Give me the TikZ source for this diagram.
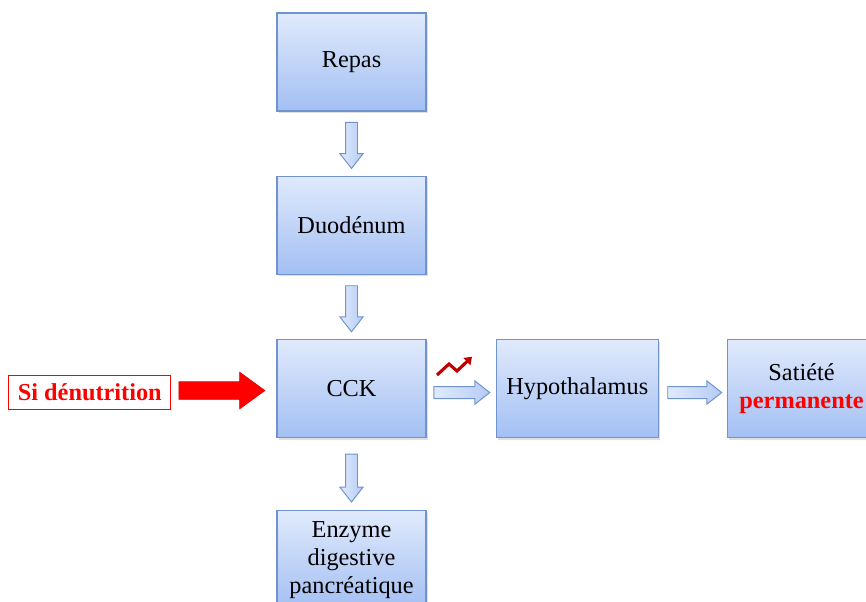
\documentclass[tikz,border=0pt]{standalone}
\usepackage{fontspec}
\setmainfont{Liberation Serif}
\usetikzlibrary{positioning,shapes.arrows,shadows,calc,arrows.meta}

\definecolor{boiteHaut}{HTML}{E0EAFC}
\definecolor{boiteBas}{HTML}{A3BFF3}
\definecolor{boiteBord}{HTML}{6F93CF}
\definecolor{rougeFonce}{HTML}{C00000}

\tikzset{
	boite/.style={rectangle, draw=boiteBord, line width=0.9pt, top color=boiteHaut, bottom color=boiteBas,
		minimum width=3.725cm, minimum height=2.45cm, align=center,
		font=\fontsize{17.3}{20}\selectfont,
		drop shadow={shadow xshift=0.04cm, shadow yshift=-0.05cm, opacity=0.25}},
	fleche/.style={single arrow, draw=boiteBord, line width=0.7pt, left color=boiteHaut, right color=boiteBas!80,
		minimum height=1.15cm, inner xsep=0pt, inner ysep=0.1375cm,
		single arrow head extend=0.14cm, single arrow tip angle=76},
	alerte/.style={rectangle, draw=red, line width=0.8pt, fill=white, text=red,
		minimum width=4.05cm, minimum height=0.85cm, font=\fontsize{17.3}{20}\selectfont\bfseries}
}

\begin{document}
\begin{tikzpicture}
	\useasboundingbox (0,0) rectangle (21.65,-15.025);

	% colonne centrale
	\node[boite] (repas) at (8.7875,-1.55) {Repas};
	\node[boite, below=1.6cm of repas] (duodenum) {Duodénum};
	\node[boite, below=1.6cm of duodenum] (cck) {CCK};
	\node[boite, below=1.8cm of cck] (enzyme) {Enzyme\\digestive\\pancréatique};

	% branche droite
	\node[boite, minimum width=4.05cm, right=1.725cm of cck] (hypo) {Hypothalamus};
	\node[boite, minimum width=3.7cm, right=1.7cm of hypo] (satiete) {Satiété\\\textcolor{red}{\textbf{permanente}}};

	% cause
	\node[alerte, left=2.625cm of cck, yshift=-0.1cm] (denutrition) {Si dénutrition};

	% fleches
	\node[fleche, rotate=-90, xshift=-0.05cm] (f1) at ($(repas.south)!0.5!(duodenum.north)$) {};
	\node[fleche, rotate=-90, xshift=-0.05cm] (f2) at ($(duodenum.south)!0.5!(cck.north)$) {};
	\node[fleche, rotate=-90, minimum height=1.2cm] (f3) at ($(cck.south)!0.5!(enzyme.north)$) {};
	\node[fleche, minimum height=1.4cm, xshift=-0.08cm, yshift=-0.1cm] (f4) at ($(cck.east)!0.5!(hypo.west)$) {};
	\node[fleche, minimum height=1.35cm, xshift=-0.05cm, yshift=-0.1cm] (f5) at ($(hypo.east)!0.5!(satiete.west)$) {};
	\node[single arrow, fill=red, draw=red!85!black, inner xsep=0pt, inner ysep=0.2125cm, minimum height=2.15cm,
		single arrow head extend=0.24cm, single arrow tip angle=72, xshift=-0.2cm] (f6)
		at ($(denutrition.east)!0.5!(cck.west)$) {};

	% tendance a la hausse
	\draw[rougeFonce, line width=2.2pt, -{Triangle[length=5pt,width=7pt]}]
		(10.925,-9.375) -- (11.225,-9.1) -- (11.425,-9.275) -- (11.8,-8.92);
\end{tikzpicture}
\end{document}
